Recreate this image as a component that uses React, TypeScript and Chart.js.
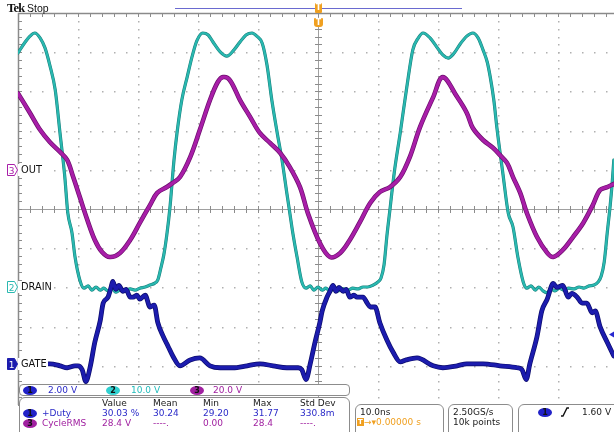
import React, { useEffect, useRef } from 'react';
import { Chart, registerables } from 'chart.js';

Chart.register(...registerables);

// ---- horizontal: 10.0 ns/div, trigger at 0 ----
const TIME_MIN_NS = -50;
const TIME_MAX_NS = 49.33;

// ---- channel settings (V/div, ground position in divisions from centre) ----
const gateVoltsPerDiv = 2;
const gateGroundDiv = -4;
const drainVoltsPerDiv = 10;
const drainGroundDiv = -2;
const outVoltsPerDiv = 20;
const outGroundDiv = 1;
const triggerLevelV = 1.6;

// ---- CH2 DRAIN ----
const drainTimeNs = [-50.0,-48.8,-48.0,-47.2,-46.3,-45.5,-44.7,-43.8,-43.0,-42.2,-41.7,-41.0,-40.5,-39.7,-39.0,-38.3,-37.7,-37.0,-36.3,-35.7,-35.0,-34.3,-33.7,-33.0,-32.2,-31.3,-30.5,-29.7,-28.8,-28.0,-27.2,-26.7,-26.2,-25.7,-25.2,-24.7,-24.0,-23.5,-22.7,-21.8,-21.0,-20.2,-19.2,-18.3,-17.5,-16.3,-15.2,-14.0,-13.0,-12.0,-11.0,-10.2,-9.3,-8.5,-7.7,-6.8,-6.0,-5.2,-4.7,-4.2,-3.5,-2.7,-2.0,-1.3,-0.7,0,0.7,1.3,2.0,2.7,3.3,4.2,5.0,5.8,6.7,7.5,8.3,9.2,10.0,10.5,11.0,11.5,12.0,12.7,13.7,14.8,15.8,16.7,17.5,18.7,19.8,20.8,21.7,22.7,23.7,24.8,25.8,26.7,27.5,28.2,28.7,29.3,29.8,30.8,31.7,32.5,33.3,34.2,34.8,35.5,36.2,36.8,37.5,38.2,38.8,39.5,40.2,41.0,41.8,42.7,43.5,44.3,45.2,46.0,46.7,47.2,47.7,48.2,48.7,49.0,49.3];
const drainVolts = [59.8,62.6,64.1,64.9,63.6,61.1,56.7,50.4,39.4,28.2,19.0,13.9,7.8,1.9,-0.2,0.4,-0.7,0.1,-0.7,-0.2,-0.9,-0.4,-1.2,-0.7,-0.9,-0.4,-0.7,-0.2,0.1,0.6,1.1,1.9,4.9,8.3,13.4,20.0,32.5,39.4,47.8,53.7,58.8,62.9,64.9,64.4,62.6,60.1,59.0,60.6,62.6,64.4,64.9,64.1,62.3,56.7,47.8,39.4,32.5,24.1,19.0,13.9,7.8,1.4,-0.2,0.4,-0.7,0.1,-0.7,-0.2,-0.9,-0.4,-0.9,-0.4,-0.7,-0.2,-0.4,0.1,0.1,0.6,1.4,2.4,5.7,13.4,20.0,29.2,39.4,51.1,60.6,63.6,64.9,63.6,61.3,59.3,58.5,59.8,62.1,64.1,64.9,63.6,60.6,57.5,53.7,47.8,40.9,29.2,19.0,15.4,7.8,1.4,-0.2,0.4,-0.7,0.1,-0.9,-1.4,-0.4,-0.9,-0.2,-0.7,-0.2,-0.4,0.1,-0.2,0.4,0.6,1.4,2.9,6.5,13.9,21.0,26.1,32.5];

// ---- CH3 OUT ----
const outTimeNs = [-50.0,-48.0,-46.3,-44.7,-43.0,-41.8,-40.8,-39.7,-38.5,-37.2,-36.0,-34.7,-33.0,-31.3,-29.7,-28.0,-26.8,-25.2,-24.2,-23.0,-21.3,-19.7,-18.0,-16.7,-15.8,-14.7,-13.0,-11.3,-9.7,-8.0,-6.3,-4.7,-3.0,-1.7,0.3,2.0,3.7,5.3,7.0,8.7,10.3,12.0,13.7,15.3,17.0,19.2,20.8,23.2,24.8,25.8,27.5,29.2,30.3,31.5,32.5,33.7,34.8,36.5,38.2,39.2,40.8,42.5,44.2,45.8,47.0,48.2,49.3];
const outVolts = [39.0,29.0,20.3,14.2,9.1,5.0,-3.7,-13.9,-25.1,-35.8,-41.9,-44.5,-42.4,-35.8,-27.1,-18.0,-11.8,-8.8,-6.7,-3.7,6.5,20.3,35.6,44.8,47.3,45.8,35.6,26.9,18.8,13.7,8.6,1.4,-8.8,-22.0,-37.3,-44.5,-42.4,-35.8,-26.6,-16.9,-11.3,-8.8,-3.7,6.5,21.8,37.1,47.3,37.1,29.0,21.3,15.2,11.1,7.6,3.5,-3.7,-11.8,-22.0,-34.3,-42.4,-44.5,-40.9,-34.3,-27.1,-18.0,-10.3,-8.8,-7.2];

// ---- CH1 GATE ----
const gateTimeNs = [-50.0,-48.0,-46.3,-44.7,-43.0,-41.8,-40.5,-40.0,-39.3,-38.7,-38.0,-37.2,-36.3,-35.8,-35.0,-34.5,-34.2,-33.7,-33.2,-32.5,-32.0,-31.3,-30.8,-30.2,-29.7,-28.8,-28.0,-27.3,-26.7,-25.8,-25.0,-24.2,-23.0,-21.3,-19.7,-18.0,-16.3,-14.2,-11.8,-9.7,-7.5,-5.2,-3.3,-2.7,-2.0,-1.3,-0.5,0.3,0.7,1.5,2.0,2.5,3.0,3.5,4.2,4.7,5.3,6.0,6.5,7.5,8.2,8.7,9.5,10.3,11.5,12.5,13.7,14.7,16.5,19.2,20.8,23.2,24.8,27.5,30.3,33.2,34.0,34.7,35.3,36.5,37.3,38.2,39.2,39.8,40.8,41.7,42.3,43.2,44.0,44.8,45.7,46.2,47.0,48.2,49.3];
const gateVolts = [0.2,0.2,0.1,0.1,0.0,-0.1,0.0,0.0,-0.2,-0.8,-0.1,1.2,2.3,3.2,3.5,4.0,4.3,3.9,4.1,3.8,3.9,3.5,3.5,3.6,3.4,3.6,3.0,3.1,2.2,1.5,1.0,0.5,0.0,0.3,0.4,0.0,-0.1,-0.1,0.0,0.1,0.0,-0.1,-0.1,-0.2,-0.7,0.1,1.2,2.2,2.8,3.5,3.8,4.1,3.8,4.0,3.8,3.9,3.5,3.6,3.5,3.5,3.2,3.0,3.0,2.2,1.3,0.7,0.2,0.3,0.4,0.0,-0.1,0.0,0.1,0.1,0.0,-0.1,-0.2,-0.7,0.1,1.5,2.8,3.4,4.2,4.0,4.1,3.5,3.7,3.5,3.2,3.2,2.7,2.8,2.0,1.2,0.5];

// ---- readout texts ----
const channelScaleLabels = ['2.00 V', '10.0 V', '20.0 V'];
const measHeaders = ['Value', 'Mean', 'Min', 'Max', 'Std Dev'];
const dutyRow = ['30.03 %', '30.24', '29.20', '31.77', '330.8m'];
const rmsRow = ['28.4 V', '----.', '0.00', '28.4', '----.'];

const GATE_C = '#1c1cae';
const GATE_EDGE = '#0c0c6c';
const DRAIN_C = '#2ab8b0';
const DRAIN_EDGE = '#187e7a';
const OUT_C = '#a81ea8';
const OUT_EDGE = '#6c0e6c';
const ORANGE = '#f0a020';
const SANS = '"DejaVu Sans", Verdana, sans-serif';

const axisRange = (vpd: number, ground: number) => ({
  min: (-5 - ground) * vpd,
  max: (5 - ground) * vpd,
});

const tekGrid = {
  id: 'tekGrid',
  beforeDatasetsDraw(chart: any) {
    const { ctx, chartArea: a, scales } = chart;
    const xs = scales.x;
    const px0 = xs.getPixelForValue(0);
    const divW = xs.getPixelForValue(10) - px0;
    const divH = (a.bottom - a.top) / 10;
    const cx = Math.round(px0);
    const cy = Math.round(a.top + 5 * divH);
    ctx.save();
    ctx.fillStyle = '#b0b0b0';
    for (let k = -5; k <= 5; k++) {
      if (k === 0) continue;
      const x = Math.round(px0 + k * divW);
      if (x <= a.left + 2 || x >= a.right) continue;
      for (let j = 1; j < 50; j++) {
        const y = Math.round(a.top + (j * divH) / 5);
        ctx.fillRect(x, y, 1.5, 1.5);
      }
    }
    for (let i = 1; i < 10; i++) {
      if (i === 5) continue;
      const y = Math.round(a.top + i * divH);
      for (let j = -25; j <= 25; j++) {
        const x = Math.round(px0 + (j * divW) / 5);
        if (x <= a.left + 2 || x >= a.right) continue;
        ctx.fillRect(x, y, 1.5, 1.5);
      }
    }
    ctx.strokeStyle = '#a0a0a0';
    ctx.lineWidth = 1;
    ctx.beginPath();
    ctx.moveTo(a.left, cy + 0.5);
    ctx.lineTo(a.right, cy + 0.5);
    ctx.moveTo(cx + 0.5, a.top);
    ctx.lineTo(cx + 0.5, a.bottom);
    ctx.stroke();
    ctx.strokeStyle = '#8c8c8c';
    ctx.beginPath();
    for (let j = -25; j <= 25; j++) {
      const x = Math.round(px0 + (j * divW) / 5) + 0.5;
      if (x <= a.left || x >= a.right) continue;
      ctx.moveTo(x, cy - 3);
      ctx.lineTo(x, cy + 4);
      ctx.moveTo(x, a.top);
      ctx.lineTo(x, a.top + 4);
    }
    for (let j = 0; j <= 50; j++) {
      const y = Math.round(a.top + (j * divH) / 5) + 0.5;
      ctx.moveTo(cx - 3, y);
      ctx.lineTo(cx + 4, y);
      ctx.moveTo(a.left, y);
      ctx.lineTo(a.left + 4, y);
    }
    ctx.stroke();
    ctx.strokeStyle = '#8a8a8a';
    ctx.lineWidth = 1.5;
    ctx.beginPath();
    ctx.moveTo(a.left, a.top + 0.5);
    ctx.lineTo(a.right, a.top + 0.5);
    ctx.moveTo(a.left + 0.5, a.top);
    ctx.lineTo(a.left + 0.5, a.bottom);
    ctx.stroke();
    ctx.restore();
  },
  afterDatasetsDraw(chart: any) {
    const { ctx, chartArea: a, scales } = chart;
    const y = scales.yGate.getPixelForValue(triggerLevelV);
    ctx.save();
    ctx.fillStyle = '#2828d0';
    ctx.beginPath();
    ctx.moveTo(a.right - 5, y);
    ctx.lineTo(a.right, y - 3);
    ctx.lineTo(a.right, y + 3);
    ctx.closePath();
    ctx.fill();
    ctx.restore();
  },
};

const pts = (t: number[], v: number[]) => t.map((x, i) => ({ x, y: v[i] }));

const trace = (label: string, data: any[], axis: string, color: string, width: number, smooth: any) => ({
  label,
  data,
  yAxisID: axis,
  borderColor: color,
  borderWidth: width,
  pointRadius: 0,
  borderJoinStyle: 'round',
  borderCapStyle: 'round',
  fill: false,
  ...smooth,
});

const MONO = { cubicInterpolationMode: 'monotone' };
const SMOOTH = { tension: 0.35 };

const Txt = ({ x, y, children, color = '#1a1a1a', size = 9, weight = 400, family = SANS, h = 11, bg }: any) => (
  <div
    style={{
      position: 'absolute',
      left: x,
      top: y - h / 2,
      height: h,
      lineHeight: h + 'px',
      fontSize: size,
      fontFamily: family,
      fontWeight: weight,
      color,
      whiteSpace: 'nowrap',
      background: bg,
    }}
  >
    {children}
  </div>
);

const Oval = ({ x, y, color, num, textColor = '#111' }: any) => (
  <div
    style={{
      position: 'absolute',
      left: x - 7,
      top: y - 4.5,
      width: 14,
      height: 9,
      borderRadius: '50%',
      background: color,
      color: textColor,
      fontFamily: SANS,
      fontSize: 8,
      lineHeight: '9px',
      textAlign: 'center',
      fontWeight: 700,
    }}
  >
    {num}
  </div>
);

const Box = ({ left, top, width, height, r = 5 }: any) => (
  <div
    style={{
      position: 'absolute',
      left,
      top,
      width,
      height,
      border: '1px solid #8c8c8c',
      borderRadius: r,
      background: '#fff',
      boxSizing: 'border-box',
    }}
  />
);

const ChMarker = ({ y, color, num, filled, label }: any) => (
  <>
    <div style={{ position: 'absolute', left: 18, top: y - 6, width: 30, height: 12, background: '#fff' }} />
    <svg style={{ position: 'absolute', left: 7, top: y - 6 }} width={12} height={12}>
      <polygon
        points="0.5,0.5 7.5,0.5 10.5,6 7.5,11.5 0.5,11.5"
        fill={filled ? color : '#fff'}
        stroke={color}
        strokeWidth={1}
      />
      <text x={4.5} y={9.5} fontSize={9} fontFamily="DejaVu Sans" textAnchor="middle" fill={filled ? '#fff' : color}>
        {num}
      </text>
    </svg>
    <Txt x={21} y={y} size={9.8} color="#111" h={12}>
      {label}
    </Txt>
  </>
);

export default function App() {
  const ref = useRef<HTMLCanvasElement | null>(null);
  useEffect(() => {
    if (!ref.current) return;
    const gate = pts(gateTimeNs, gateVolts);
    const out = pts(outTimeNs, outVolts);
    const drain = pts(drainTimeNs, drainVolts);
    const chart = new Chart(ref.current, {
      type: 'line',
      data: {
        datasets: [
          trace('GATE', gate, 'yGate', GATE_C, 3.4, MONO),
          trace('GATE edge', gate, 'yGate', GATE_EDGE, 4.8, MONO),
          trace('OUT', out, 'yOut', OUT_C, 3.2, SMOOTH),
          trace('OUT edge', out, 'yOut', OUT_EDGE, 4.6, SMOOTH),
          trace('DRAIN', drain, 'yDrain', DRAIN_C, 2.2, MONO),
          trace('DRAIN edge', drain, 'yDrain', DRAIN_EDGE, 3.2, MONO),
        ],
      },
      options: {
        animation: false,
        responsive: false,
        maintainAspectRatio: false,
        events: [],
        layout: { padding: { left: 18, top: 13, right: 0, bottom: 27 } },
        plugins: { legend: { display: false }, tooltip: { enabled: false } },
        scales: {
          x: { type: 'linear', min: TIME_MIN_NS, max: TIME_MAX_NS, display: false },
          yGate: { type: 'linear', ...axisRange(gateVoltsPerDiv, gateGroundDiv), display: false },
          yDrain: { type: 'linear', ...axisRange(drainVoltsPerDiv, drainGroundDiv), display: false },
          yOut: { type: 'linear', ...axisRange(outVoltsPerDiv, outGroundDiv), display: false },
        },
      },
      plugins: [tekGrid],
    } as any);
    return () => chart.destroy();
  }, []);

  const colX = [102, 153, 203, 253, 300];

  return (
    <div style={{ position: 'absolute', left: 0, top: 0, width: 614, height: 432, overflow: 'hidden', background: '#fff' }}>
      <canvas ref={ref} width={614} height={432} style={{ position: 'absolute', left: 0, top: 0, width: 614, height: 432 }} />

      {/* top bar */}
      <Txt x={7} y={8} size={12.5} weight={700} family='"Liberation Serif", "DejaVu Serif", serif' h={14} color="#111">
        <span style={{ letterSpacing: -0.8 }}>Tek</span>
      </Txt>
      <Txt x={27} y={8} size={10.5} family='"Liberation Sans", Arial, sans-serif' h={14} color="#111">
        Stop
      </Txt>
      <div style={{ position: 'absolute', left: 175, top: 7.5, width: 287, height: 1, background: '#6a6ad0' }} />
      <div style={{ position: 'absolute', left: 315, top: 3, width: 7, height: 10, background: ORANGE, borderRadius: 1 }}>
        <div style={{ color: '#fff', fontFamily: SANS, fontSize: 8, lineHeight: '10px', textAlign: 'center', fontWeight: 700 }}>T</div>
      </div>
      <div style={{ position: 'absolute', left: 314, top: 18, width: 9, height: 9, background: ORANGE, borderRadius: '1px 1px 3px 3px' }}>
        <div style={{ color: '#fff', fontFamily: SANS, fontSize: 8, lineHeight: '9px', textAlign: 'center', fontWeight: 700 }}>T</div>
      </div>

      {/* channel markers */}
      <ChMarker y={170} color={OUT_C} num="3" label="OUT" />
      <ChMarker y={287} color={DRAIN_C} num="2" label="DRAIN" />
      <ChMarker y={364} color={GATE_C} num="1" label="GATE" filled />

      {/* channel scale box */}
      <Box left={19} top={384} width={331} height={12} r={4} />
      <Oval x={30} y={390} color="#2222c8" num="1" />
      <Txt x={48} y={390} color="#2a2ac8">{channelScaleLabels[0]}</Txt>
      <Oval x={113} y={390} color="#30d0d0" num="2" />
      <Txt x={131} y={390} color="#22bcbc">{channelScaleLabels[1]}</Txt>
      <Oval x={197} y={390} color="#a020a0" num="3" />
      <Txt x={213} y={390} color="#a020a0">{channelScaleLabels[2]}</Txt>

      {/* measurement box */}
      <Box left={19} top={397} width={331} height={45} r={6} />
      {measHeaders.map((h, i) => (
        <Txt key={'h' + i} x={colX[i]} y={403}>{h}</Txt>
      ))}
      <Oval x={30} y={413} color="#2222c8" num="1" />
      <Txt x={42} y={413} color="#2a2ac8">+Duty</Txt>
      {dutyRow.map((v, i) => (
        <Txt key={'d' + i} x={colX[i]} y={413} color="#2a2ac8">{v}</Txt>
      ))}
      <Oval x={30} y={423.5} color="#a020a0" num="3" />
      <Txt x={42} y={423.5} color="#a020a0">CycleRMS</Txt>
      {rmsRow.map((v, i) => (
        <Txt key={'r' + i} x={colX[i]} y={423.5} color="#a020a0">{v}</Txt>
      ))}

      {/* timebase box */}
      <Box left={355} top={404} width={89} height={40} r={6} />
      <Txt x={360} y={412.5}>10.0ns</Txt>
      <div style={{ position: 'absolute', left: 357, top: 418, width: 7, height: 8, background: ORANGE, color: '#fff', fontFamily: SANS, fontSize: 7, lineHeight: '8px', textAlign: 'center', fontWeight: 700 }}>T</div>
      <Txt x={364} y={422} color={ORANGE}>→▾0.00000 s</Txt>

      {/* acquisition box */}
      <Box left={448} top={404} width={65} height={40} r={6} />
      <Txt x={453} y={412.5}>2.50GS/s</Txt>
      <Txt x={453} y={422}>10k points</Txt>

      {/* trigger box */}
      <Box left={518} top={404} width={110} height={40} r={6} />
      <Oval x={545} y={412} color="#2222c8" num="1" />
      <svg style={{ position: 'absolute', left: 560, top: 407 }} width={10} height={10}>
        <polyline points="1,9 3,9 7,1 9,1" fill="none" stroke="#111" strokeWidth={1.4} />
      </svg>
      <Txt x={582} y={412.5}>1.60 V</Txt>
    </div>
  );
}
